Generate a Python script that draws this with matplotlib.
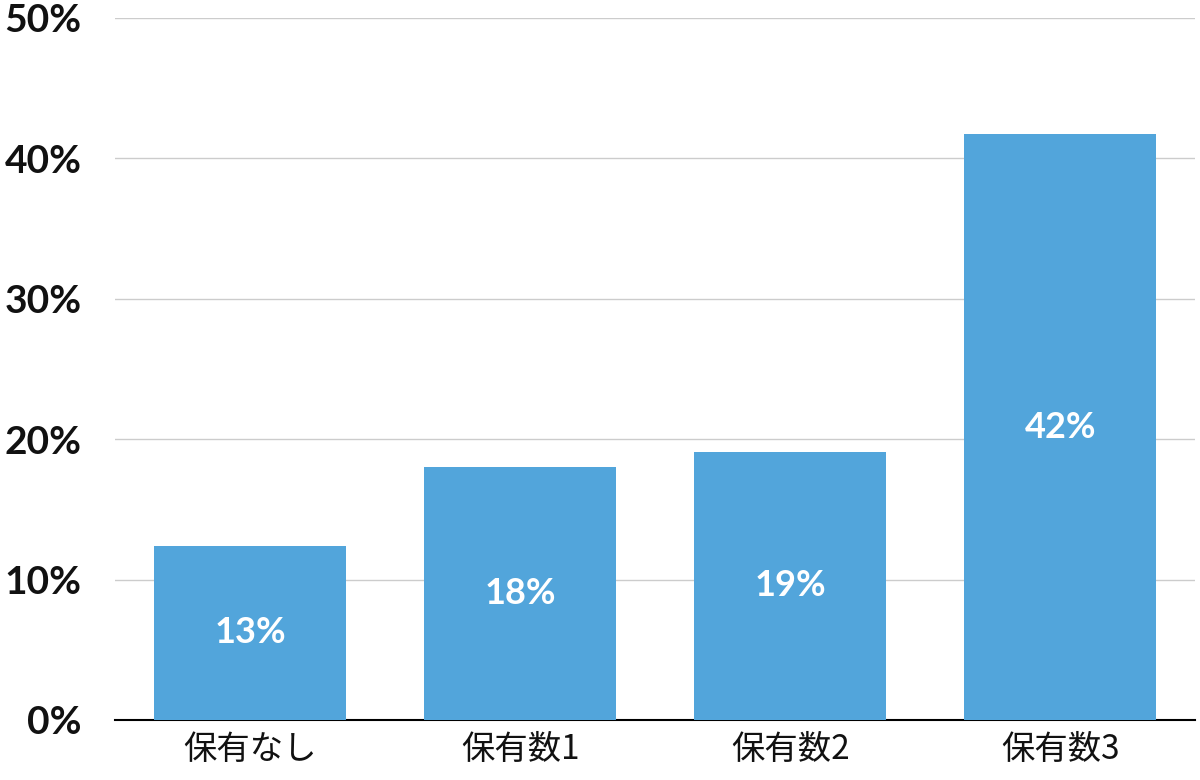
import matplotlib
matplotlib.use("Agg")
import matplotlib.pyplot as plt

categories = ["保有なし", "保有数1", "保有数2", "保有数3"]
values = [12.4, 18.0, 19.1, 41.7]
labels = ["13%", "18%", "19%", "42%"]
yticks = [0, 10, 20, 30, 40, 50]
ytick_labels = ["0%", "10%", "20%", "30%", "40%", "50%"]

plt.rcParams['font.family'] = ['Noto Sans CJK JP', 'DejaVu Sans']

fig = plt.figure(figsize=(12, 7.8), dpi=100)
ax = fig.add_axes([0.096, 0.077, 0.9, 0.9])

x = range(len(categories))
bars = ax.bar(x, values, width=0.71, color="#52A5DB", zorder=3)
for b, lab in zip(bars, labels):
    ax.text(b.get_x() + b.get_width() / 2, b.get_height() / 2, lab,
            ha="center", va="center", color="white", fontsize=26,
            fontweight="bold", family=["Lato", "DejaVu Sans"], zorder=4)

ax.set_xlim(-0.5, 3.5)
ax.set_ylim(0, 50)
ax.set_yticks(yticks)
ax.set_yticklabels(ytick_labels, family=["Lato", "DejaVu Sans"],
                   fontsize=28, fontweight="bold", color="#111111")
ax.set_xticks(list(x))
ax.set_xticklabels(categories, fontsize=24, color="#111111")
ax.yaxis.grid(True, color="#cccccc", linewidth=1, zorder=0)
for s in ["top", "right", "left"]:
    ax.spines[s].set_visible(False)
ax.spines["bottom"].set_color("black")
ax.spines["bottom"].set_linewidth(1.5)
ax.tick_params(axis="both", length=0)
ax.tick_params(axis="y", pad=24)
ax.tick_params(axis="x", pad=9)
for lbl in ax.get_yticklabels():
    lbl.set_horizontalalignment("right")

fig.savefig("out.png", dpi=100)
